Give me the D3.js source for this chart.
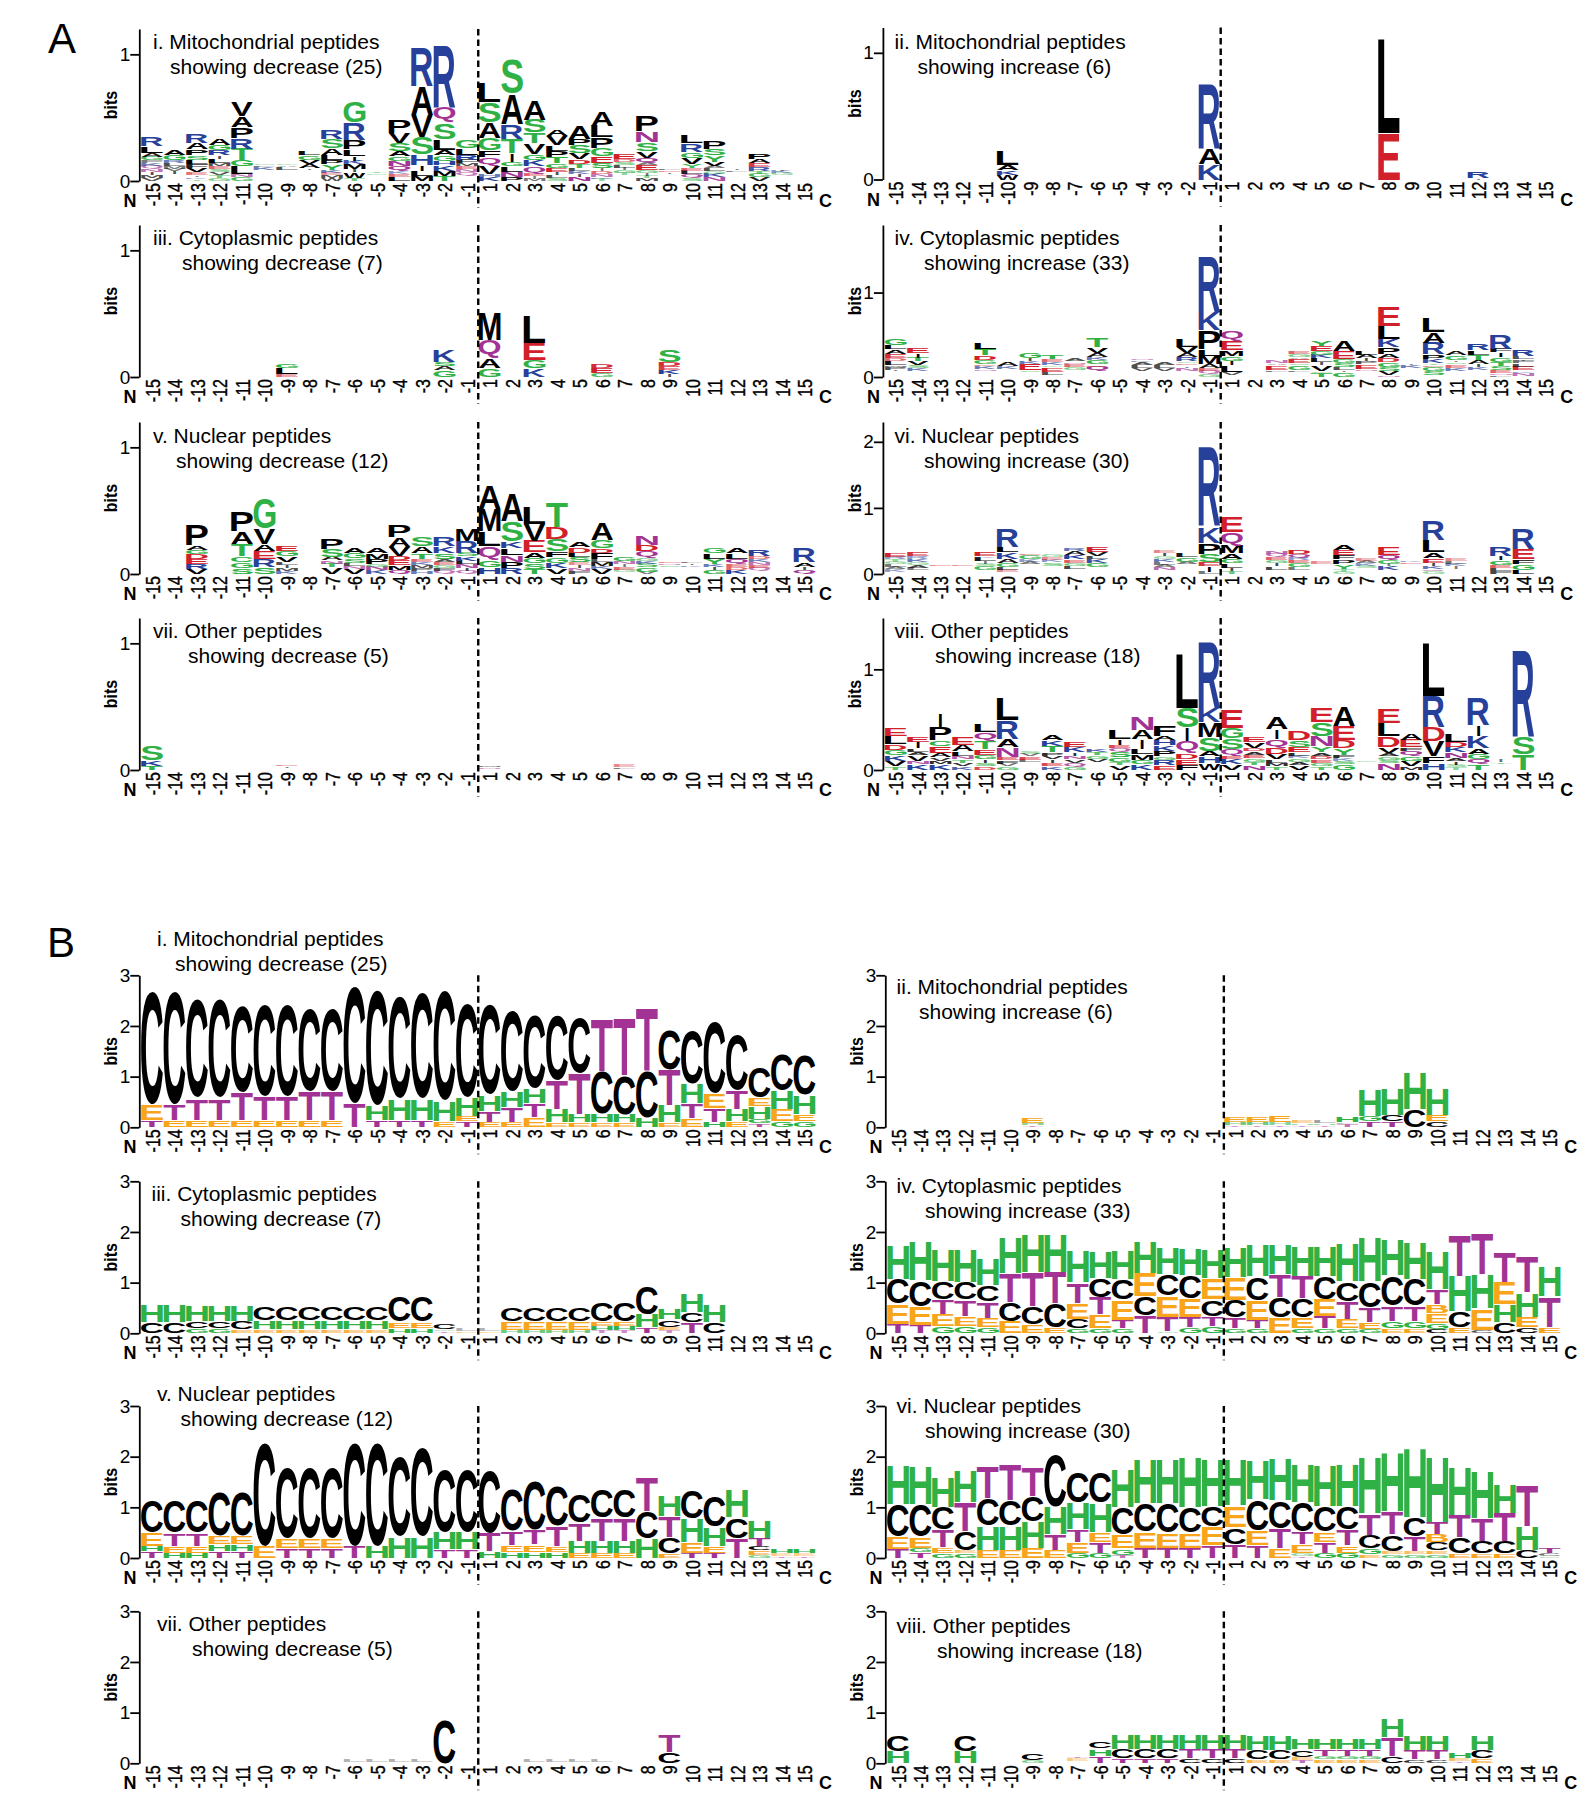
<!DOCTYPE html>
<html>
<head>
<meta charset="utf-8">
<title>Sequence logos</title>
<script src="https://cdn.jsdelivr.net/npm/d3@7"></script>
<style>
    html, body { margin: 0; background: #fff; }
    text { font-family: "Liberation Sans", Arial, sans-serif; }
</style>
</head>
<body>
<div id="chart"></div>
<script>
/* ----------------------- Data: one string per position, letters bottom to top, value in bits ("_" = empty gap) ----------------------- */
const positions = [-15,-14,-13,-12,-11,-10,-9,-8,-7,-6,-5,-4,-3,-2,-1,1,2,3,4,5,6,7,8,9,10,11,12,13,14,15];

const logoAi = [
    "V.02 M.02 I.02 N.02 Q.02 K.02 F.015 G.026 A.026 L.05 R.066",
    "_.05 I.02 V.015 M.015 L.02 R.02 G.04 A.04",
    "T.012 K.012 I.012 E.018 V.03 F.025 L.03 S.035 P.04 A.047 R.066",
    "G.02 T.02 V.02 S.02 E.02 M.02 L.03 I.02 R.035 G.04 A.047",
    "G.025 N.02 L.057 G.047 T.087 R.08 P.085 A.08 V.11",
    "_.08 K.02 L.012 G.008",
    "_.08 L.02 A.012 G.008",
    "_.08 I.012 A.03 V.03 G.035 L.027",
    "W.02 M.02 E.015 K.02 Y.04 P.03 L.035 A.05 S.07 R.066",
    "T.02 W.04 I.02 M.035 K.025 I.03 L.05 P.075 R.135 G.17",
    "_.045 G.012 T.012",
    "L.03 E.02 K.015 Q.035 N.04 G.035 A.035 S.06 V.075 P.10",
    "M.035 L.04 I.04 H.08 S.13 V.175 A.22 R.30",
    "T.035 M.04 K.04 H.03 G.04 A.04 L.08 S.125 Q.12 R.48",
    "_.04 Q.02 N.02 E.02 M.02 F.025 R.035 L.05 G.065",
    "K.03 H.02 V.06 Q.06 F.055 G.09 A.12 S.155 L.155",
    "P.03 N.035 L.04 G.03 I.065 T.11 R.115 A.235 S.27",
    "M.015 I.015 E.02 Q.05 K.045 G.045 V.08 T.08 S.10 A.155",
    "S.02 L.02 I.02 E.03 G.03 T.045 P.045 L.04 V.07 A.05",
    "N.03 I.02 K.02 L.02 T.027 D.03 V.047 S.06 P.045 A.105",
    "T.015 K.012 N.02 D.02 I.015 S.04 E.045 G.06 P.085 L.085 A.115",
    "_.04 T.015 G.02 I.015 L.02 S.02 D.02 E.04",
    "M.02 T.015 I.015 G.02 E.035 A.015 Q.035 V.05 S.065 N.08 P.12",
    "_.05 I.012 E.012 L.01",
    "S.02 Q.025 L.025 E.02 Y.025 V.045 G.045 R.06 L.06",
    "N.025 K.025 G.015 L.02 A.015 V.03 Y.047 S.047 P.065",
    "_.07 L.012 I.008",
    "V.025 G.025 T.02 R.025 E.025 A.03 P.035",
    "_.04 G.015 K.015 I.008",
    ""
];

const logoAii = [
    "", "", "", "", "", "W.035 K.03 A.035 L.11", "", "", "", "", "", "", "", "", "K.12 A.12 R.51",
    "", "", "", "", "", "", "", "E.36 L.735", "", "", "", "I.01 R.05", "", "", ""
];

const logoAiii = [
    "", "", "", "", "", "", "E.02 L.045 G.035", "", "", "", "", "", "", "G.05 A.025 S.03 K.095", "",
    "G.065 A.075 Q.14 M.215", "", "K.065 G.065 E.13 L.215", "", "", "G.025 E.035 D.027", "", "", "I.02 K.03 E.025 D.027 S.095", "", "", "", "", "", ""
];

const logoAiv = [
    "_.06 I.01 P.03 M.02 L.04 D.03 E.04 A.05 L.05 G.07",
    "_.06 K.03 S.03 V.04 T.04 I.05 E.06",
    "", "",
    "_.06 N.02 K.03 E.02 G.04 D.05 T.07 L.075",
    "_.09 K.03 A.04",
    "_.05 S.02 E.07 K.03 I.03 G.06",
    "_.02 L.03 E.05 G.02 K.03 E.03 T.05",
    "_.08 G.03 E.03 N.02 A.03",
    "_.06 Q.05 E.02 G.05 K.03 A.04 V.06 T.10",
    "",
    "_.06 V.03 L.03 A.03 K.02 N.02",
    "_.07 V.03 L.03 A.03",
    "_.07 N.03 I.02 E.02 G.02 R.04 A.04 V.07 L.09",
    "G.03 Q.03 E.03 A.04 M.09 L.07 P.22 K.21 R.655",
    "_.02 V.03 L.08 I.04 G.05 M.06 E.11 Q.11",
    "",
    "_.05 L.02 E.05 A.02 N.03",
    "_.05 L.02 G.05 S.02 E.04 A.02 G.03 E.03",
    "T.04 G.02 V.06 I.03 L.04 K.04 G.04 E.055 Y.06",
    "G.05 I.02 L.03 S.04 G.04 E.09 A.12",
    "_.06 N.02 E.05 P.03 I.03 A.04 L.05",
    "N.02 V.04 S.04 G.05 D.04 A.05 P.07 K.095 L.15 E.23",
    "_.1 K.03 I.02",
    "_.02 S.04 G.04 E.02 T.02 K.04 P.05 R.13 A.12 L.16",
    "_.07 K.03 E.03 S.02 I.02 G.05 A.04",
    "_.08 K.03 I.03 A.04 T.055 L.05 R.07",
    "L.02 N.02 E.03 S.04 T.04 G.05 I.05 F.04 R.17",
    "_.01 N.03 K.02 E.04 L.03 F.025 I.02 L.03 R.08",
    ""
];

const logoAv = [
    "", "",
    "V.035 R.035 E.035 D.035 G.03 A.03 P.165",
    "",
    "S.04 G.045 C.045 T.09 A.095 P.15",
    "S.05 R.06 E.06 A.05 V.12 G.235",
    "K.02 M.02 I.02 L.02 V.04 G.04 E.04",
    "",
    "V.05 T.025 N.02 A.025 S.06 P.08",
    "V.035 N.02 L.02 S.035 G.04 A.035",
    "K.025 N.025 G.02 P.035 M.04 A.035",
    "Q.03 M.03 E.035 D.03 V.065 A.075 P.095",
    "H.02 P.02 M.02 K.02 E.02 T.04 A.05 S.07",
    "Q.02 F.02 G.02 E.02 A.02 S.045 K.05 R.07",
    "Q.02 I.02 N.025 L.025 K.03 S.025 R.09 M.09",
    "H.05 G.055 Q.105 L.11 M.17 A.18",
    "R.045 P.045 N.047 L.05 K.05 S.16 A.21",
    "T.035 S.04 G.04 A.04 E.085 V.13 L.13",
    "V.04 K.04 G.045 F.04 S.095 D.085 T.19",
    "F.02 N.02 I.02 E.015 S.04 L.03 D.04 A.035",
    "V.035 K.02 M.025 L.02 F.05 D.03 G.06 A.13",
    "_.01 G.015 E.02 I.015 N.02 G.03",
    "V.015 G.03 S.025 K.02 G.02 Q.045 D.045 N.07",
    "_.05 S.012 N.012 E.012",
    "_.05 K.012 I.012 L.012",
    "G.03 I.02 K.02 Y.035 L.04 G.04",
    "K.03 D.02 E.02 Q.035 L.04 A.04",
    "_.02 Q.02 E.02 N.02 K.02 D.02 R.045",
    "",
    "Q.03 I.02 A.03 R.11"
];

const logoAvi = [
    "_.03 K.03 A.03 L.03 G.03 T.03 R.03 E.055",
    "_.05 L.03 A.04 G.03 K.04 R.03 E.05",
    "_.12 E.02",
    "_.12 E.02",
    "_.05 G.05 S.03 I.03 L.05 K.02 E.06",
    "_.02 E.03 L.04 G.05 A.05 K.09 L.075 R.27",
    "_.14 A.03 K.03 G.05 E.02",
    "_.12 S.04 K.03 E.03 G.03",
    "_.07 L.04 G.04 E.04 K.06 A.05 R.04",
    "_.1 G.05 K.05 L.04 V.05 E.07",
    "", "",
    "_.05 N.04 A.03 L.03 K.04 G.03 I.04 E.03",
    "_.14 A.03 G.06 L.05",
    "L.03 I.07 E.05 S.125 P.16 K.24 R1.18",
    "T.04 I.04 L.06 G.06 A.075 M.11 Q.2 E.24",
    "",
    "_.06 L.04 I.04 G.04 E.04 Q.04 N.04",
    "_.06 L.03 G.05 E.04 R.03 Q.05 D.06",
    "_.14 E.03",
    "G.03 T.03 Y.065 P.065 F.065 E.07 A.08",
    "_.08 S.03 K.03 A.03 E.03",
    "_.05 K.05 I.03 G.05 Q.065 E.12",
    "_.14 E.02 K.02",
    "G.03 Q.03 K.04 I.04 E.06 A.085 L.18 R.28",
    "_.07 I.03 K.03 L.03 E.03",
    "",
    "F.04 L.04 E.04 G.065 I.05 R.135",
    "L.055 G.08 F.065 E.15 R.31",
    ""
];

const logoAvii = [
    "T.03 K.04 S.115", "", "", "", "", "", "_.01 I.012 E.012", "", "", "", "", "", "", "", "",
    "_.005 N.012 M.012", "", "", "", "", "", "_.005 L.012 E.015", "", "", "", "", "", "", "", ""
];

const logoAviii = [
    "T.03 V.05 K.05 G.05 D.05 L.075 E.075",
    "K.05 N.03 V.05 A.03 L.03 I.06 E.05",
    "K.05 M.03 V.03 A.04 E.06 C.055 P.13 I.125",
    "K.03 V.03 T.03 N.03 L.04 A.06 E.08",
    "D.03 S.03 I.03 G.04 E.055 T.075 Q.08 L.075",
    "G.03 V.02 F.03 E.03 N.09 A.08 R.18 L.22",
    "_.07 L.02 E.03 V.02 S.02",
    "K.03 E.03 I.03 V.03 P.03 T.06 K.055 A.055",
    "G.03 Q.03 V.03 N.03 I.03 K.045 E.055",
    "_.07 V.03 G.03 T.03 K.03",
    "V.04 T.03 G.04 S.05 Q.03 E.03 I.05 L.09",
    "K.05 G.04 M.055 L.045 I.09 A.09 N.13",
    "E.04 R.05 G.03 P.05 K.05 H.045 A.04 F.10",
    "F.045 E.055 D.055 Q.115 I.13 S.19 L.53",
    "W.06 H.065 A.05 S.135 M.14 K.135 R.645",
    "V.05 K.05 E.03 Q.06 S.10 G.10 E.175",
    "N.04 T.03 G.03 E.03 A.03 D.03 V.05 E.05",
    "T.03 M.03 L.03 V.05 D.06 Q.08 I.09 A.12",
    "V.04 A.03 G.03 K.02 L.03 E.045 S.065 D.09",
    "T.03 G.03 E.03 D.03 A.03 Y.055 N.10 S.13 E.14",
    "G.05 S.03 K.02 F.03 Y.06 D.075 E.14 A.19",
    "_.07 G.015",
    "N.06 S.03 G.03 A.03 V.055 D.10 L.13 E.14",
    "M.03 V.05 G.04 Q.05 F.03 E.07 A.065",
    "H.065 F.06 V.145 D.14 R.30 L.52",
    "T.02 S.02 I.03 A.03 N.05 K.05 D.045 L.08",
    "T.05 Q.045 G.05 A.05 K.115 I.105 R.27",
    "_.05 T.015 I.02",
    "T.155 S.165 R.855",
    ""
];

const logoBi = [
    "T.13 E.3 C2.22", "E.13 T.3 C2.2", "E.13 T.42 C1.93", "E.13 T.42 C1.93", "E.13 T.53 C1.7",
    "E.13 T.45 C1.8", "E.13 T.45 C1.8", "E.13 T.55 C1.6", "E.13 T.55 C1.6", "T.47 C2.3",
    "T.13 H.28 C2.27", "T.13 H.4 C2", "T.13 H.4 C2.08", "E.11 H.38 C2.17", "T.1 E.1 H.35 C1.84",
    "E.09 T.2 H.31 C1.76", "E.09 T.28 H.3 C1.58", "E.18 T.26 H.28 C1.44", "E.08 H.25 T.55 C1.27", "E.08 H.15 T.8 C1.09",
    "E.08 H.15 C.84 T1.03", "E.08 H.15 C.76 T1.13", "H.18 C.92 T1.23", "E.08 H.33 T.68 C.79", "E.16 T.28 H.37 C1.05",
    "H.09 T.25 E.28 C1.41", "E.1 H.23 T.36 C1.1", "T.06 G.08 H.23 E.15 C.6", "G.1 E.22 H.35 C.7", "G.1 E.13 H.36 C.77"
];

const logoBii = [
    "", "", "", "", "", "", "T.02 H.04 E.09", "", "", "", "", "", "", "", "",
    "T.02 H.05 E.1", "T.02 H.05 E.1", "T.03 H.04 E.13", "T.02 H.03 E.05", "T.02 H.03 L.05", "T.05 L.03 H.1", "T.1 G.1 H.5", "T.1 C.12 H.5", "C.34 H.72", "C.1 E.12 H.5",
    "", "", "", "", ""
];

const logoBiii = [
    "C.2 H.33", "C.2 H.33", "G.08 C.13 H.3", "G.08 C.13 H.3", "E.06 C.15 H.3",
    "E.06 H.16 C.25", "E.06 H.16 C.25", "E.06 H.16 C.25", "E.06 H.16 C.25", "E.06 H.16 C.25",
    "E.06 H.16 C.25", "H.085 E.11 C.49", "H.085 E.11 C.49", "T.02 G.03 C.11", "E.02 L.04",
    "E.02 L.04", "H.05 E.16 C.25", "H.05 E.16 C.25", "H.05 E.16 C.25", "H.05 E.16 C.25",
    "T.04 H.07 E.08 C.36", "T.04 H.07 E.08 C.36", "T.1 H.25 C.55", "T.04 E.06 C.13 H.2", "T.2 C.18 H.35",
    "C.2 H.34", "", "", "", ""
];

const logoBiv = [
    "T.17 E.38 C.48 H.67", "T.14 E.36 C.5 H.76", "G.13 E.22 T.28 C.33 H.62", "G.13 E.18 T.31 C.33 H.63", "G.1 E.18 T.31 C.31 H.5",
    "E.23 C.36 T.56 H.7", "E.16 C.34 T.66 H.74", "E.1 C.46 T.61 H.75", "G.08 C.18 E.3 T.39 H.62", "G.08 E.26 T.33 C.36 H.5",
    "G.08 T.16 E.38 C.39 H.56", "T.34 C.37 E.44 H.62", "G.03 T.27 E.4 C.41 H.5", "G.1 T.2 E.34 C.44 H.51", "G.13 T.18 C.32 E.39 H.56",
    "G.08 T.2 C.33 E.43 H.6", "G.08 T.15 E.38 C.45 H.62", "E.3 C.39 T.43 H.59", "G.08 E.2 C.36 T.43 H.59", "G.08 T.23 E.32 C.43 H.58",
    "G.08 E.18 T.33 C.37 H.74", "G.07 E.12 T.28 C.49 H.88", "E.08 G.13 T.29 C.58 H.68", "E.08 G.13 T.29 C.51 H.72", "C.07 G.11 E.18 B.15 T.29 H.73",
    "E.1 C.31 H.68 T.79", "C.05 E.41 H.66 T.8", "C.2 H.34 E.43 T.59", "C.1 E.2 H.46 T.68", "E.1 T.6 H.59"
];

const logoBv = [
    "T.12 H.09 E.24 C.61", "H.09 E.12 T.24 C.61", "H.09 E.12 T.24 C.61", "T.12 H.13 E.15 C.85", "T.12 H.13 E.15 C.85",
    "E.22 C2.02", "T.18 E.18 C1.38", "T.18 E.18 C1.38", "T.18 E.18 C1.38", "T.22 C2.03",
    "H.22 C2.03", "H.42 C1.56", "H.42 C1.74", "T.16 H.33 C1.23", "T.16 H.33 C1.23",
    "H.12 T.35 C1.22", "H.11 E.12 T.26 C.8", "H.11 E.13 T.28 C.97", "H.11 E.1 T.39 C.78", "E.09 H.22 T.34 C.54",
    "E.09 H.22 T.44 C.54", "E.09 H.22 T.44 C.54", "H.38 C.51 T.66", "E.08 C.3 T.41 H.41", "T.09 E.2 H.45 C.55",
    "T.09 E.12 H.36 C.59", "T.38 C.39 H.53", "G.05 E.07 C.07 T.14 H.32", "T.02 E.04 H.08", "T.02 E.04 H.08"
];

const logoBvi = [
    "T.17 E.23 C.61 H.77", "T.1 G.07 E.2 C.63 H.74", "G.08 E.1 T.34 C.43 H.58", "G.08 E.05 C.36 T.55 H.61", "E.14 H.47 C.53 T.62",
    "E.14 H.47 C.48 T.7", "E.19 H.51 C.48 T.56", "E.14 T.3 H.53 C1", "G.09 E.2 T.24 H.51 C.59", "G.09 T.2 E.18 H.57 C.59",
    "T.05 G.11 E.26 C.52 H.75", "T.19 E.3 C.54 H.87", "T.19 E.28 C.57 H.88", "T.19 E.28 C.49 H.97", "T.24 E.35 C.39 H.92",
    "T.26 C.32 E.41 H.9", "T.24 E.28 C.59 H.76", "E.18 T.38 C.53 H.82", "T.03 G.04 E.15 T.24 C.56 H.75", "G.09 T.2 E.18 C.5 H.8",
    "G.09 E.13 T.3 C.44 H.82", "E.06 G.1 C.25 T.41 H1.11", "G.06 E.05 C.31 T.44 H1.15", "G.06 E.05 T.28 C.36 H1.37", "G.06 E.06 C.15 B.15 T.22 H1.29",
    "E.08 C.3 T.43 H.95", "E.08 C.23 T.44 H.91", "E.08 C.22 T.55 H.56", "C.14 H.46 T.78", "G.03 C.04 T.09"
];

const logoBvii = [
    "", "", "", "", "", "", "", "", "",
    "_.015 L.04", "_.015 L.04", "_.015 L.04", "_.015 L.04", "C.86", "",
    "", "", "_.015 L.04", "_.015 L.04", "_.015 L.04", "_.015 L.04", "", "", "C.2 T.34", "",
    "", "", "", "", ""
];

const logoBviii = [
    "H.23 C.32", "", "", "H.23 C.32", "", "", "G.05 C.12", "", "_.03 E.04 T.02", "T.13 H.13 C.13",
    "T.08 C.18 H.28", "T.08 C.18 H.28", "T.08 C.18 H.28", "C.08 T.18 H.28", "C.08 T.18 H.28",
    "C.08 T.18 H.28", "E.06 C.18 H.28", "E.06 C.18 H.28", "T.05 E.05 C.13 H.2", "E.06 G.06 T.12 H.2",
    "E.06 G.06 T.12 H.2", "E.06 G.06 T.12 H.2", "C.12 T.36 H.36", "C.06 T.18 H.28", "C.06 T.18 H.28",
    "T.03 E.05 H.1", "E.08 C.16 H.28", "", "", ""
];

const titleLines = [
    ["i. Mitochondrial peptides", "showing decrease (25)"],
    ["ii. Mitochondrial peptides", "showing increase (6)"],
    ["iii. Cytoplasmic peptides", "showing decrease (7)"],
    ["iv. Cytoplasmic peptides", "showing increase (33)"],
    ["v. Nuclear peptides", "showing decrease (12)"],
    ["vi. Nuclear peptides", "showing increase (30)"],
    ["vii. Other peptides", "showing decrease (5)"],
    ["viii. Other peptides", "showing increase (18)"],
];

/* ----------------------- Layout ----------------------- */
const width = 1577;
const height = 1800;
const logoHeight = 152;
const leftX = { A: [152, 804.5], B: [152, 804.5] };
const rightX = { A: [895.6, 1545.8], B: [898, 1549.7] };

// baseline, axis max, y ticks, first title line x/y, second title line x/y
const panels = [
    { p: "A", col: 0, t: 0, data: logoAi, y0: 181, max: 1.2, ticks: [0, 1], t1: [153, 49], t2: [170, 74] },
    { p: "A", col: 1, t: 1, data: logoAii, y0: 179.5, max: 1.2, ticks: [0, 1], t1: [894.6, 49], t2: [917.4, 74] },
    { p: "A", col: 0, t: 2, data: logoAiii, y0: 377, max: 1.2, ticks: [0, 1], t1: [153, 245], t2: [182, 270] },
    { p: "A", col: 1, t: 3, data: logoAiv, y0: 377, max: 1.8, ticks: [0, 1], t1: [894.6, 245], t2: [924, 270] },
    { p: "A", col: 0, t: 4, data: logoAv, y0: 574, max: 1.2, ticks: [0, 1], t1: [153, 443], t2: [176, 468] },
    { p: "A", col: 1, t: 5, data: logoAvi, y0: 574, max: 2.3, ticks: [0, 1, 2], t1: [894.6, 443], t2: [924, 468] },
    { p: "A", col: 0, t: 6, data: logoAvii, y0: 770, max: 1.2, ticks: [0, 1], t1: [153, 638], t2: [188, 663] },
    { p: "A", col: 1, t: 7, data: logoAviii, y0: 770, max: 1.51, ticks: [0, 1], t1: [894.6, 638], t2: [935, 663] },
    { p: "B", col: 0, t: 0, data: logoBi, y0: 1127.3, max: 3, ticks: [0, 1, 2, 3], t1: [157, 946], t2: [175, 971] },
    { p: "B", col: 1, t: 1, data: logoBii, y0: 1127.3, max: 3, ticks: [0, 1, 2, 3], t1: [896.6, 994], t2: [919, 1019] },
    { p: "B", col: 0, t: 2, data: logoBiii, y0: 1333.3, max: 3, ticks: [0, 1, 2, 3], t1: [151.5, 1201], t2: [180.6, 1226] },
    { p: "B", col: 1, t: 3, data: logoBiv, y0: 1333.3, max: 3, ticks: [0, 1, 2, 3], t1: [896.6, 1193], t2: [925, 1218] },
    { p: "B", col: 0, t: 4, data: logoBv, y0: 1558, max: 3, ticks: [0, 1, 2, 3], t1: [157, 1401], t2: [180.6, 1426] },
    { p: "B", col: 1, t: 5, data: logoBvi, y0: 1558, max: 3, ticks: [0, 1, 2, 3], t1: [896.6, 1413], t2: [925, 1438] },
    { p: "B", col: 0, t: 6, data: logoBvii, y0: 1763.3, max: 3, ticks: [0, 1, 2, 3], t1: [157, 1631], t2: [192, 1656] },
    { p: "B", col: 1, t: 7, data: logoBviii, y0: 1763.3, max: 3, ticks: [0, 1, 2, 3], t1: [896.6, 1633], t2: [937, 1658] },
];

/* ----------------------- Letter colours ----------------------- */
const green = "#2fb145", blue = "#27409a", red = "#d2202a", purple = "#a23394", orange = "#f8a51b", black = "#000";
const coloursA = { G: green, S: green, T: green, Y: green, C: green, N: purple, Q: purple, K: blue, R: blue, H: blue, D: red, E: red };
const coloursB = { C: black, T: purple, H: green, G: green, E: orange, B: orange, L: "#777" };

/* ----------------------- Glyph metrics, so each letter fills its box exactly ----------------------- */
const letterFont = "bold 100px 'Liberation Sans'";
const ctx = document.createElement("canvas").getContext("2d");
ctx.font = letterFont;
const metricsCache = {};
function glyph(letter) {
    if (!metricsCache[letter]) {
        const m = ctx.measureText(letter);
        metricsCache[letter] = {
            left: m.actualBoundingBoxLeft,
            right: m.actualBoundingBoxRight,
            asc: m.actualBoundingBoxAscent,
            desc: m.actualBoundingBoxDescent,
        };
    }
    return metricsCache[letter];
}

function parseStack(str) {
    return str.split(" ").filter(Boolean).map(s => ({ letter: s[0], bits: +s.slice(1) }));
}

/* ----------------------- Draw ----------------------- */
const svg = d3.select("#chart").append("svg")
    .attr("width", width)
    .attr("height", height)
    .attr("viewBox", `0 0 ${width} ${height}`);

panels.forEach(panel => {
    const range = panel.col === 0 ? leftX[panel.p] : rightX[panel.p];
    const x = d3.scalePoint().domain(positions).range(range);
    const y = d3.scaleLinear().domain([0, panel.max]).range([panel.y0, panel.y0 - logoHeight]);
    const colours = panel.p === "A" ? coloursA : coloursB;
    const stackGap = panel.p === "A" ? 0.5 : 0.8;
    const g = svg.append("g");
    const step = x.step();
    const axisX = x(-15) - 12.7;

    // stacked letters
    panel.data.forEach((str, i) => {
        let bottom = panel.y0;
        parseStack(str).forEach(d => {
            const h = panel.y0 - y(d.bits);
            if (d.letter !== "_") {
                const m = glyph(d.letter);
                // I stays a thin bar, every other letter fills the column
                const boxW = d.letter === "I" ? 3 : step - 0.6;
                const sx = boxW / (m.left + m.right);
                const sy = h / (m.asc + m.desc);
                const x0 = x(positions[i]) - boxW / 2;
                g.append("text")
                    .attr("transform", `translate(${x0 + m.left * sx},${bottom - m.desc * sy}) scale(${sx},${sy})`)
                    .style("font", letterFont)
                    .attr("fill", colours[d.letter] || black)
                    .attr("fill-opacity", Math.max(0.5, Math.min(1, h / 3.6)))
                    .text(d.letter);
            }
            bottom -= h + stackGap;
        });
    });

    // dashed cleavage line
    const dashX = (x(-1) + x(1)) / 2;
    g.append("line")
        .attr("x1", dashX).attr("x2", dashX)
        .attr("y1", panel.y0 - logoHeight).attr("y2", panel.y0 + 27)
        .attr("stroke", "#000").attr("stroke-width", 2.4).attr("stroke-dasharray", "6.5,4");

    // y axis
    const yAxis = g.append("g")
        .attr("transform", `translate(${axisX},0)`)
        .call(d3.axisLeft(y).tickValues(panel.ticks).tickFormat(d3.format("d")).tickSize(9).tickSizeOuter(0));
    yAxis.selectAll("path, line").attr("stroke", "#000").attr("stroke-width", 1.8);
    yAxis.selectAll("text").attr("fill", "#000").style("font-size", "19px").attr("x", -9);

    // bits label
    g.append("text")
        .attr("transform", `translate(${axisX - 22},${y(panel.max) + 76}) rotate(-90) scale(1,1.2)`)
        .attr("text-anchor", "middle")
        .style("font-size", "16px").style("font-weight", "bold")
        .text("bits");

    // position labels
    const xAxis = g.append("g")
        .attr("transform", `translate(0,${panel.y0})`)
        .call(d3.axisBottom(x).tickSize(0));
    xAxis.select(".domain").remove();
    xAxis.selectAll("text")
        .attr("fill", "#000")
        .attr("stroke", "#000").attr("stroke-width", 0.3)
        .attr("x", 0).attr("y", 0).attr("dy", 0)
        .attr("text-anchor", "end")
        .attr("transform", "translate(7,2) rotate(-90) scale(1,1.25)")
        .style("font-size", "16px");

    // N and C ends
    [["N", x(-15) - 22], ["C", x(15) + 21]].forEach(([label, lx]) => {
        g.append("text")
            .attr("x", lx).attr("y", panel.y0 + 26)
            .attr("text-anchor", "middle")
            .style("font-size", "18px").style("font-weight", "bold")
            .text(label);
    });

    // title
    [[titleLines[panel.t][0], panel.t1], [titleLines[panel.t][1], panel.t2]].forEach(([label, at]) => {
        g.append("text")
            .attr("x", at[0]).attr("y", at[1])
            .style("font-size", "21px")
            .text(label);
    });
});

// panel letters
[["A", 48, 53], ["B", 47, 957]].forEach(([label, lx, ly]) => {
    svg.append("text")
        .attr("x", lx).attr("y", ly)
        .style("font-size", "42px")
        .text(label);
});
</script>
</body>
</html>
